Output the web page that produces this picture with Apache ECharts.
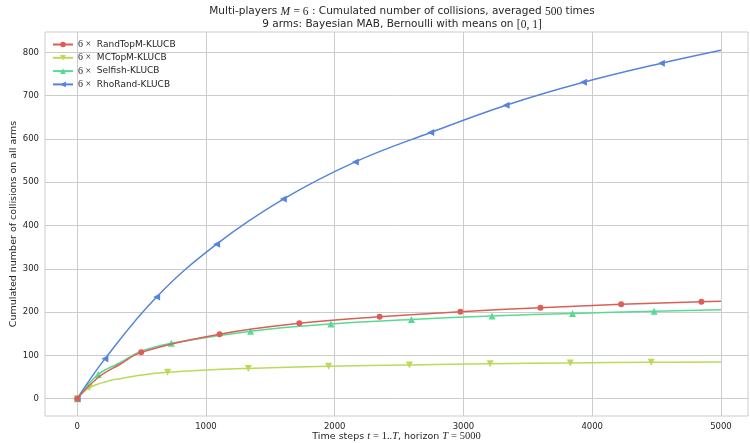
<!DOCTYPE html>
<html>
<head>
<meta charset="utf-8">
<script src="https://cdn.jsdelivr.net/npm/echarts@6/dist/echarts.min.js"></script>
<style>html,body{margin:0;padding:0;background:#fff}#c{width:750px;height:443px}</style>
</head>
<body>
<div id="c"></div>
<script>
// ---- data ----
const seriesNames = ['RandTopM-KLUCB', 'MCTopM-KLUCB', 'Selfish-KLUCB', 'RhoRand-KLUCB'];
const xTicks = [0, 1000, 2000, 3000, 4000, 5000];
const yTicks = [0, 100, 200, 300, 400, 500, 600, 700, 800];

const randTopMX = [0, 163, 333, 497, 1106, 1725, 2349, 2976, 3598, 4225, 4848, 5000];
const randTopMY = [0, 49, 79.5, 107, 149, 174, 189, 201, 210, 218, 224, 225];
const randTopMMarks = [0, 497, 1106, 1725, 2349, 2976, 3598, 4225, 4848];

const mcTopMX = [0, 93, 254, 333, 461, 702, 1329, 1953, 2580, 3207, 3830, 4458, 5000];
const mcTopMY = [0, 25, 42, 46, 53, 61, 70, 75, 78, 80.5, 82.5, 84, 84.5];
const mcTopMMarks = [0, 93, 702, 1329, 1953, 2580, 3207, 3830, 4458];

const selfishX = [0, 163, 333, 497, 731, 1347, 1971, 2596, 3222, 3847, 4481, 5000];
const selfishY = [0, 56, 83, 109.5, 128, 156, 172.5, 183, 191, 197, 202, 205.5];
const selfishMarks = [0, 163, 731, 1347, 1971, 2596, 3222, 3847, 4481];

const rhoRandX = [0, 215, 617, 1083, 1601, 2160, 2746, 3331, 3932, 4537, 5000];
const rhoRandY = [0, 92, 235, 357, 461, 547, 615, 678, 731, 775, 805];
const rhoRandMarks = [0, 215, 617, 1083, 1601, 2160, 2746, 3331, 3932, 4537];

// ---- styles ----
const colors = ['#db5f57', '#b9db57', '#57db94', '#5784db'];
const symbols = ['circle', 'triangle', 'triangle', 'triangle'];
const rotates = [0, 180, 0, 90];
const sizes = [6, 7, 7, 7];
const serif = 'Liberation Serif';
const sans = 'DejaVu Sans';
const txt = '#262626';

function build(xs, ys, marks) {
  return xs.map((x, i) => {
    const item = { value: [x, ys[i]] };
    if (marks.indexOf(x) < 0) item.symbol = 'none';
    return item;
  });
}
const allData = [
  build(randTopMX, randTopMY, randTopMMarks),
  build(mcTopMX, mcTopMY, mcTopMMarks),
  build(selfishX, selfishY, selfishMarks),
  build(rhoRandX, rhoRandY, rhoRandMarks)
];

const chart = echarts.init(document.getElementById('c'), null, { renderer: 'canvas' });
const option = {
  backgroundColor: '#ffffff',
  animation: false,
  title: {
    text: 'Multi-players {i|M} {r|= 6} : Cumulated number of collisions, averaged {r|500} times\n9 arms: Bayesian MAB, Bernoulli with means on {r|[0, 1]}',
    left: 397, top: 0, padding: [5, 5, 5, 5], textAlign: 'center',
    textStyle: {
      fontFamily: sans, fontSize: 10.5, fontWeight: 'normal', color: txt, lineHeight: 13,
      rich: {
        i: { fontFamily: serif, fontStyle: 'italic', fontSize: 11.5, color: txt },
        r: { fontFamily: serif, fontSize: 11.5, color: txt }
      }
    }
  },
  legend: {
    orient: 'vertical', left: 52, top: 39, padding: 0,
    itemWidth: 20, itemHeight: 7, itemGap: 2.3,
    data: seriesNames,
    formatter: name => '{s|6 ×}  ' + name,
    textStyle: {
      fontFamily: sans, fontSize: 9, color: txt, lineHeight: 11,
      rich: { s: { fontFamily: serif, fontSize: 10, color: txt } }
    }
  },
  grid: { left: 45, right: 2, top: 32, bottom: 27, containLabel: false, outerBoundsMode: 'none', show: true, borderColor: '#cccccc', borderWidth: 1 },
  xAxis: {
    type: 'value', min: -250, max: 5210,
    name: 'Time steps {i|t} {r|= 1..}{i|T}, horizon {i|T} {r|= 5000}',
    nameLocation: 'middle', nameGap: 15, nameMoveOverlap: false,
    nameTextStyle: {
      fontFamily: sans, fontSize: 9.5, color: txt,
      rich: {
        i: { fontFamily: serif, fontStyle: 'italic', fontSize: 10.5, color: txt },
        r: { fontFamily: serif, fontSize: 10.5, color: txt }
      }
    },
    axisLine: { show: false },
    axisTick: { show: false, customValues: xTicks },
    axisLabel: { customValues: xTicks, formatter: v => String(v), fontFamily: sans, fontSize: 8.5, color: txt, margin: 6 },
    splitLine: { show: true, lineStyle: { color: '#cccccc', width: 1 } }
  },
  yAxis: {
    type: 'value', min: -40, max: 847,
    name: 'Cumulated number of collisions on all arms',
    nameLocation: 'middle', nameGap: 26, nameMoveOverlap: false,
    nameTextStyle: { fontFamily: sans, fontSize: 9.5, color: txt },
    axisLine: { show: false },
    axisTick: { show: false, customValues: yTicks },
    axisLabel: { customValues: yTicks, formatter: v => String(v), fontFamily: sans, fontSize: 8.5, color: txt, margin: 6 },
    splitLine: { show: true, lineStyle: { color: '#cccccc', width: 1 } }
  },
  series: seriesNames.map((n, k) => ({
    name: n, type: 'line', data: allData[k],
    smooth: 0.4,
    symbol: symbols[k], symbolSize: sizes[k], symbolRotate: rotates[k],
    showAllSymbol: true,
    lineStyle: { color: colors[k], width: 1.5 },
    itemStyle: { color: colors[k] },
    z: k === 0 ? 10 : 2 + k
  }))
};
chart.setOption(option);
</script>
</body>
</html>
